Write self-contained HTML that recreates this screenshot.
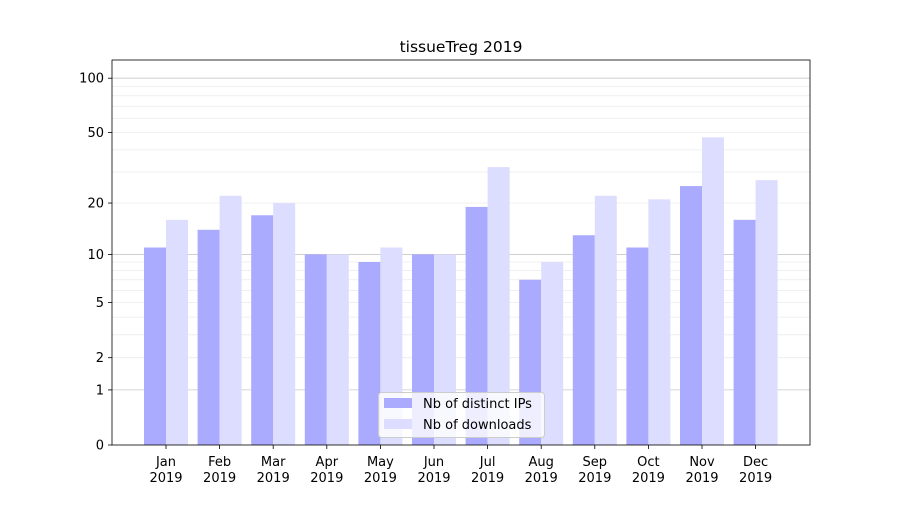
<!DOCTYPE html>
<html><head><meta charset="utf-8"><style>
body{margin:0;background:#fff;}
svg text{font-family:"DejaVu Sans","Liberation Sans",sans-serif;}
</style></head><body>
<svg id="s" width="900" height="500" xmlns="http://www.w3.org/2000/svg"></svg>
<script>
const s=document.getElementById('s');
const L=112,R=810,T=60,B=445,K=183;
const Y=v=>B-K*Math.log10(1+v);
let h='<rect width="900" height="500" fill="#fff"/>';
// grid
const minor=[3,4,6,7,8,9,30,40,60,70,80,90,2,5,20,50];
minor.forEach(v=>{h+=`<line x1="${L}" x2="${R}" y1="${Y(v)}" y2="${Y(v)}" stroke="#ebebeb" stroke-width="0.8"/>`;});
[1,10,100].forEach(v=>{h+=`<line x1="${L}" x2="${R}" y1="${Y(v)}" y2="${Y(v)}" stroke="#c8c8c8" stroke-width="0.8"/>`;});
const m=['Jan','Feb','Mar','Apr','May','Jun','Jul','Aug','Sep','Oct','Nov','Dec'];
const a=[11,14,17,10,9,10,19,7,13,11,25,16];
const b=[16,22,20,10,11,10,32,9,22,21,47,27];
m.forEach((n,i)=>{const c=166+i*53.6;
h+=`<rect x="${c-22}" y="${Y(a[i])}" width="22" height="${B-Y(a[i])}" fill="#aaaaff"/>`;
h+=`<rect x="${c}" y="${Y(b[i])}" width="22" height="${B-Y(b[i])}" fill="#ddddff"/>`;
h+=`<line x1="${c}" x2="${c}" y1="${B}" y2="${B+4}" stroke="#000" stroke-width="0.8"/>`;
h+=`<text x="${c}" y="${B+21}" font-size="13" text-anchor="middle">${n}</text><text x="${c}" y="${B+37}" font-size="13" text-anchor="middle">2019</text>`;});
[0,1,2,5,10,20,50,100].forEach(v=>{const y=Y(v);
h+=`<line x1="${L-4}" x2="${L}" y1="${y}" y2="${y}" stroke="#000" stroke-width="0.8"/>`;
h+=`<text x="${L-8}" y="${y+4.5}" font-size="13" text-anchor="end">${v}</text>`;});
h+=`<rect x="${L}" y="${T}" width="${R-L}" height="${B-T}" fill="none" stroke="#000" stroke-width="0.8"/>`;
h+=`<text x="461" y="52" font-size="15.5" text-anchor="middle">tissueTreg 2019</text>`;
h+=`<rect x="378.5" y="392.5" width="166" height="45" rx="3" fill="#fff" fill-opacity="0.8" stroke="#ccc"/>`;
h+=`<rect x="384" y="398" width="28" height="10" fill="#aaaaff"/><text x="423" y="408" font-size="13">Nb of distinct IPs</text>`;
h+=`<rect x="384" y="419" width="28" height="10" fill="#ddddff"/><text x="423" y="429" font-size="13">Nb of downloads</text>`;
s.innerHTML=h;
</script>
</body></html>
